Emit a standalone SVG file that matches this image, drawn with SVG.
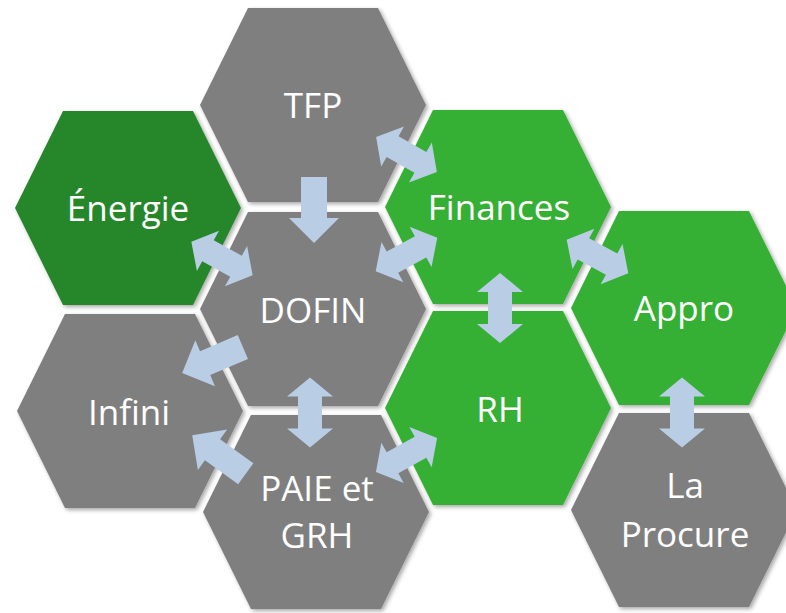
<svg xmlns="http://www.w3.org/2000/svg" xmlns:xlink="http://www.w3.org/1999/xlink" width="786" height="613" viewBox="0 0 786 613">
<style>
.lbl{font-family:"Open Sans","Noto Sans","Liberation Sans",sans-serif;font-size:35px;fill:#ffffff;text-anchor:middle}
.gray{fill:#7f7f7f}
.dark{fill:#27862a}
.green{fill:#35b035}
.arr{fill:#b9cde5}
</style>
<defs>
<filter id="sh" x="-10%" y="-10%" width="125%" height="125%">
<feDropShadow dx="2" dy="2" stdDeviation="2" flood-color="#000000" flood-opacity="0.35"/>
</filter>
<polygon id="hex" points="-113,0 -65,-97 65,-97 113,0 65,97 -65,97" filter="url(#sh)"/>
<polygon id="dbl" points="-35,0 -16,-23 -16,-12 16,-12 16,-23 35,0 16,23 16,12 -16,12 -16,23"/>
<polygon id="one" points="-33,-13 8,-13 8,-25 33,0 8,25 8,13 -33,13"/>
</defs>
<rect width="786" height="613" fill="#ffffff"/>
<g id="tfp"><use xlink:href="#hex" href="#hex" class="gray" transform="translate(313,105)"/><text class="lbl" x="313" y="118">TFP</text></g>
<g id="energie"><use xlink:href="#hex" href="#hex" class="dark" transform="translate(128,208)"/><text class="lbl" x="128" y="221">Énergie</text></g>
<g id="finances"><use xlink:href="#hex" href="#hex" class="green" transform="translate(498,207)"/><text class="lbl" x="499" y="220">Finances</text></g>
<g id="dofin"><use xlink:href="#hex" href="#hex" class="gray" transform="translate(313,309)"/><text class="lbl" x="313" y="323">DOFIN</text></g>
<g id="appro"><use xlink:href="#hex" href="#hex" class="green" transform="translate(684,308)"/><text class="lbl" x="684" y="321">Appro</text></g>
<g id="infini"><use xlink:href="#hex" href="#hex" class="gray" transform="translate(130,411)"/><text class="lbl" x="129" y="425">Infini</text></g>
<g id="rh"><use xlink:href="#hex" href="#hex" class="green" transform="translate(498,408)"/><text class="lbl" x="500" y="422">RH</text></g>
<g id="paie"><use xlink:href="#hex" href="#hex" class="gray" transform="translate(316,512)"/><text class="lbl" x="317" y="501">PAIE et</text><text class="lbl" x="317" y="548">GRH</text></g>
<g id="procure"><use xlink:href="#hex" href="#hex" class="gray" transform="translate(684,510)"/><text class="lbl" x="685" y="498">La</text><text class="lbl" x="685" y="547">Procure</text></g>
<g id="connectors" class="arr">
<use xlink:href="#one" href="#one" transform="translate(314,210) rotate(90)"/>
<use xlink:href="#dbl" href="#dbl" transform="translate(406.5,154.5) rotate(29.8)"/>
<use xlink:href="#dbl" href="#dbl" transform="translate(406.5,254.5) rotate(-28.4)"/>
<use xlink:href="#dbl" href="#dbl" transform="translate(500,308) rotate(90)"/>
<use xlink:href="#dbl" href="#dbl" transform="translate(597.5,256.5) rotate(28.4)"/>
<use xlink:href="#dbl" href="#dbl" transform="translate(682,412.5) rotate(90)"/>
<use xlink:href="#dbl" href="#dbl" transform="translate(222,258.5) rotate(28.8)"/>
<use xlink:href="#one" href="#one" transform="translate(212.5,360) rotate(156.9)"/>
<use xlink:href="#one" href="#one" transform="translate(219,454.5) rotate(-144.2)"/>
<use xlink:href="#dbl" href="#dbl" transform="translate(310,412.5) rotate(90)"/>
<use xlink:href="#dbl" href="#dbl" transform="translate(406.5,455) rotate(-29.1)"/>
</g>
</svg>
